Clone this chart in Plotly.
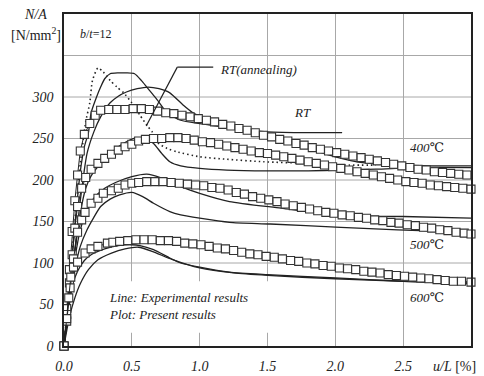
import plotly.graph_objects as go

# ---------------- data ----------------
# Simulation (plot, square markers)
SIM_RT_X = [0, 0.02, 0.04, 0.06, 0.08, 0.10, 0.12, 0.15, 0.19, 0.23, 0.27, 0.33, 0.39, 0.45, 0.51, 0.57,
            0.63, 0.69, 0.75, 0.81, 0.87, 0.93, 0.99, 1.05, 1.11, 1.17, 1.23, 1.29, 1.35, 1.41, 1.47,
            1.53, 1.59, 1.65, 1.71, 1.77, 1.83, 1.89, 1.95, 2.01, 2.07, 2.13, 2.19, 2.25, 2.31, 2.37,
            2.43, 2.49, 2.55, 2.61, 2.67, 2.73, 2.79, 2.85, 2.91, 2.97]
SIM_RT_Y = [0, 45, 92, 138, 175, 206, 235, 255, 268, 278, 284, 285, 285, 285, 286, 286,
            285, 283, 281, 280, 278, 276, 274, 272, 270, 267, 265, 262, 260, 257, 254,
            252, 249, 247, 244, 242, 239, 237, 235, 233, 231, 229, 227, 225, 223, 221,
            219, 217, 215, 213, 212, 210, 209, 208, 207, 206]

SIM_400_X = [0, 0.02, 0.04, 0.06, 0.08, 0.10, 0.13, 0.16, 0.20, 0.25, 0.30, 0.35, 0.40, 0.45, 0.50,
             0.55, 0.60, 0.66, 0.72, 0.78, 0.84, 0.90, 0.96, 1.02, 1.08, 1.14, 1.20, 1.26, 1.32,
             1.38, 1.44, 1.50, 1.56, 1.62, 1.68, 1.74, 1.80, 1.86, 1.92, 1.98, 2.04, 2.10, 2.16,
             2.22, 2.28, 2.34, 2.40, 2.46, 2.52, 2.58, 2.64, 2.70, 2.76, 2.82, 2.88, 2.94, 3.00]
SIM_400_Y = [0, 38, 76, 110, 142, 168, 190, 203, 213, 220, 226, 231, 236, 240, 243,
             247, 249, 250, 250, 251, 251, 250, 248, 246, 245, 243, 241, 239, 237,
             235, 233, 232, 230, 228, 226, 224, 222, 220, 218, 216, 214, 212, 210,
             208, 206, 204, 202, 200, 198, 197, 196, 194, 193, 192, 191, 190, 189]

SIM_500_X = [0, 0.02, 0.045, 0.07, 0.10, 0.13, 0.155, 0.20, 0.25, 0.29, 0.35, 0.40, 0.45, 0.50, 0.55,
             0.61, 0.67, 0.73, 0.79, 0.85, 0.91, 0.97, 1.03, 1.09, 1.15, 1.21, 1.27, 1.33, 1.39,
             1.45, 1.51, 1.57, 1.63, 1.69, 1.75, 1.81, 1.87, 1.93, 1.99, 2.05, 2.11, 2.17, 2.23,
             2.29, 2.35, 2.41, 2.47, 2.53, 2.59, 2.65, 2.71, 2.77, 2.83, 2.89, 2.95, 3.00]
SIM_500_Y = [0, 30, 70, 105, 137, 152, 161, 172, 178, 184, 187, 190, 194, 196, 197,
             198, 198, 198, 197, 196, 195, 194, 193, 191, 190, 188, 185, 183, 180,
             178, 176, 174, 171, 169, 167, 165, 163, 161, 160, 158, 157, 155, 154,
             152, 151, 149, 148, 146, 145, 143, 142, 140, 139, 137, 136, 135]

SIM_600_X = [0, 0.02, 0.035, 0.05, 0.07, 0.10, 0.155, 0.20, 0.25, 0.32, 0.36, 0.41, 0.47, 0.53, 0.59,
             0.65, 0.71, 0.77, 0.83, 0.89, 0.95, 1.01, 1.07, 1.13, 1.19, 1.25, 1.31, 1.37, 1.43,
             1.49, 1.55, 1.61, 1.67, 1.73, 1.79, 1.85, 1.91, 1.97, 2.03, 2.09, 2.15, 2.21, 2.27,
             2.33, 2.39, 2.45, 2.51, 2.57, 2.63, 2.69, 2.75, 2.81, 2.87, 2.93, 3.00]
SIM_600_Y = [0, 33, 58, 83, 95, 101, 112, 117, 120, 124, 125, 126, 127, 128, 128,
             128, 127, 127, 126, 124, 123, 122, 120, 118, 117, 115, 113, 111, 110,
             108, 107, 105, 103, 102, 100, 99, 97, 96, 94, 93, 92, 90, 89,
             88, 86, 85, 84, 83, 82, 81, 80, 79, 78, 78, 77]

# Experimental (lines)
EXP_RT_X = [0, 0.04, 0.08, 0.12, 0.15, 0.18, 0.20, 0.24, 0.27, 0.30, 0.34, 0.40, 0.46, 0.52, 0.57,
            0.61, 0.65, 0.69, 0.76, 0.86, 1.0, 1.13, 1.3, 1.5, 1.8, 2.05]
EXP_RT_Y = [0, 70, 145, 210, 240, 257, 281, 300, 312, 322, 328, 329, 329, 328, 320,
            312, 304, 296, 281, 272, 268, 265, 261, 258, 257, 257]

EXP_RT2_X = [0, 0.04, 0.08, 0.12, 0.17, 0.22, 0.27, 0.34, 0.40, 0.46, 0.54, 0.62, 0.70, 0.78, 0.88,
             0.95, 1.0, 1.2, 1.5, 1.8, 2.0, 2.2, 2.5, 2.8, 3.0]
EXP_RT2_Y = [0, 55, 115, 175, 232, 258, 276, 293, 301, 306, 310, 312, 310, 305, 290,
             281, 277, 266, 252, 238, 228, 221, 218, 217, 217]

EXP_RTA_X = [0, 0.04, 0.08, 0.12, 0.16, 0.19, 0.21, 0.25, 0.29, 0.34, 0.39, 0.44, 0.50, 0.56, 0.62,
             0.65, 0.69, 0.76, 0.83, 1.0, 1.2, 1.47, 1.8, 2.1, 2.3]
EXP_RTA_Y = [0, 75, 150, 220, 270, 293, 320, 335, 330, 320, 312, 305, 293, 278, 264,
             258, 245, 238, 234, 228, 225, 222, 220, 218, 218]

EXP_400_X = [0, 0.04, 0.08, 0.12, 0.16, 0.20, 0.26, 0.32, 0.40, 0.47, 0.54, 0.60, 0.66, 0.72, 0.78,
             0.86, 1.0, 1.2, 1.5, 1.8, 2.04, 2.3, 2.6, 3.0]
EXP_400_Y = [0, 60, 115, 160, 190, 205, 218, 228, 240, 247, 251, 250, 244, 232, 222,
             217, 214, 212, 211, 211, 212, 213, 215, 215]

EXP_500A_X = [0, 0.04, 0.08, 0.12, 0.16, 0.22, 0.30, 0.38, 0.50, 0.61, 0.71, 0.86, 1.0, 1.22, 1.6,
              2.04, 2.5, 3.0]
EXP_500A_Y = [0, 55, 105, 140, 160, 178, 190, 197, 204, 207, 203, 192, 184, 174, 166,
              157, 156, 154]

EXP_500B_X = [0, 0.04, 0.08, 0.12, 0.17, 0.22, 0.27, 0.34, 0.41, 0.50, 0.58, 0.66, 0.78, 0.86, 1.0,
              1.22, 1.52, 2.04, 2.46, 3.0]
EXP_500B_Y = [0, 50, 92, 120, 140, 155, 168, 177, 182, 185, 180, 172, 162, 158, 154,
              149, 147, 143, 140, 137]

EXP_600A_X = [0, 0.03, 0.06, 0.10, 0.15, 0.20, 0.30, 0.40, 0.50, 0.56, 0.66, 0.78, 0.86, 1.0, 1.22,
              1.5, 2.0, 2.5, 3.0]
EXP_600A_Y = [0, 45, 72, 90, 103, 110, 117, 121, 122, 121, 116, 106, 100, 95, 89,
              86, 82, 78, 75]

EXP_600B_X = [0, 0.04, 0.08, 0.12, 0.18, 0.25, 0.35, 0.45, 0.55, 0.65, 0.80, 1.0, 1.25, 1.5, 2.0,
              2.5, 3.0]
EXP_600B_Y = [0, 35, 58, 75, 92, 104, 112, 117, 119, 114, 104, 94, 88, 85, 81,
              78, 76]

X_TICKS = [0, 0.5, 1.0, 1.5, 2.0, 2.5]
X_TICKTEXT = ["0.0", "0.5", "1.0", "1.5", "2.0", "2.5"]
Y_TICKS = [0, 50, 100, 150, 200, 250, 300]
Y_GRID = [100, 150, 200, 250, 300, 350]

# ---------------- figure ----------------
INK = "#222222"
SERIF = "Liberation Serif, Times New Roman, DejaVu Serif, serif"
fig = go.Figure()

exp_series = [
    (EXP_RT_X, EXP_RT_Y, "solid"),
    (EXP_RT2_X, EXP_RT2_Y, "solid"),
    (EXP_RTA_X, EXP_RTA_Y, "1.5px,3px"),
    (EXP_400_X, EXP_400_Y, "solid"),
    (EXP_500A_X, EXP_500A_Y, "solid"),
    (EXP_500B_X, EXP_500B_Y, "solid"),
    (EXP_600A_X, EXP_600A_Y, "solid"),
    (EXP_600B_X, EXP_600B_Y, "solid"),
]
for xs, ys, dash in exp_series:
    fig.add_trace(go.Scatter(x=xs, y=ys, mode="lines",
                             line=dict(color=INK, width=1.3 if dash == "solid" else 1.6,
                                       dash=dash, shape="spline", smoothing=0.6),
                             hoverinfo="skip", showlegend=False))

for xs, ys in [(SIM_RT_X, SIM_RT_Y), (SIM_400_X, SIM_400_Y),
               (SIM_500_X, SIM_500_Y), (SIM_600_X, SIM_600_Y)]:
    fig.add_trace(go.Scatter(x=xs, y=ys, mode="lines+markers",
                             line=dict(color=INK, width=1),
                             marker=dict(symbol="square", size=8, color="white",
                                         line=dict(color="#333333", width=1.1)),
                             cliponaxis=False,
                             hoverinfo="skip", showlegend=False))

shapes = []
for gy in Y_GRID:
    shapes.append(dict(type="line", xref="paper", yref="y", x0=0, x1=1, y0=gy, y1=gy,
                       line=dict(color="#a8a8a8", width=1), layer="below"))
# white background of the note box
shapes.append(dict(type="rect", xref="x", yref="y", x0=0.0, x1=1.75, y0=16, y1=78,
                   fillcolor="white", line=dict(width=0), layer="between"))
# pointer of RT(annealing)
shapes.append(dict(type="line", xref="x", yref="y", x0=0.606, y0=265, x1=0.835, y1=336,
                   line=dict(color=INK, width=1.2), layer="above"))
shapes.append(dict(type="line", xref="x", yref="y", x0=0.835, y0=336, x1=1.10, y1=336,
                   line=dict(color=INK, width=1.2), layer="above"))

anno_font = dict(family=SERIF, size=13, color=INK)
annotations = [
    dict(x=1.135, y=333, xref="x", yref="y", text="<i>RT(annealing)</i>", showarrow=False,
         xanchor="left", yanchor="middle", font=anno_font),
    dict(x=1.76, y=281, xref="x", yref="y", text="<i>RT</i>", showarrow=False,
         xanchor="center", yanchor="middle", font=anno_font),
    dict(x=2.675, y=239, xref="x", yref="y", text="<i>400</i>℃", showarrow=False,
         xanchor="center", yanchor="middle", font=anno_font),
    dict(x=2.675, y=122, xref="x", yref="y", text="<i>500</i>℃", showarrow=False,
         xanchor="center", yanchor="middle", font=anno_font),
    dict(x=2.675, y=58, xref="x", yref="y", text="<i>600</i>℃", showarrow=False,
         xanchor="center", yanchor="middle", font=anno_font),
    dict(x=0.10, y=376, xref="x", yref="y", text="<i>b</i>/<i>t</i>=12", showarrow=False,
         xanchor="left", yanchor="middle", font=dict(family=SERIF, size=12, color=INK)),
    dict(x=0.315, y=48, xref="x", yref="y",
         text="<i>Line: Experimental results</i><br><i>Plot: Present results</i>",
         showarrow=False, xanchor="left", yanchor="middle", align="left", font=anno_font),
    dict(x=-0.071, y=0.997, xref="paper", yref="paper", text="<i>N/A</i>", showarrow=False,
         xanchor="center", yanchor="middle", font=dict(family=SERIF, size=14, color=INK)),
    dict(x=-0.069, y=0.94, xref="paper", yref="paper", text="[N/mm<sup>2</sup>]", showarrow=False,
         xanchor="center", yanchor="middle", font=dict(family=SERIF, size=14, color=INK)),
    dict(x=0.96, y=-0.063, xref="paper", yref="paper", text="<i>u/L</i> [%]", showarrow=False,
         xanchor="center", yanchor="middle", font=dict(family=SERIF, size=14, color=INK)),
]

fig.update_layout(
    width=484, height=376,
    margin=dict(l=64, r=13, t=14, b=30, autoexpand=False),
    paper_bgcolor="white", plot_bgcolor="white",
    font=dict(family=SERIF),
    shapes=shapes, annotations=annotations,
    showlegend=False,
)
fig.update_xaxes(range=[0, 3.0], tickvals=X_TICKS, ticktext=X_TICKTEXT, automargin=False,
                 showgrid=True, gridcolor="#a8a8a8", gridwidth=1, zeroline=False,
                 showline=True, linecolor=INK, linewidth=1.5, mirror=True, ticks="",
                 ticklabelstandoff=6,
                 tickfont=dict(family=SERIF, size=14, color=INK, style="italic"))
fig.update_yaxes(range=[0, 400], tickvals=Y_TICKS, showgrid=False, zeroline=False, automargin=False,
                 showline=True, linecolor=INK, linewidth=1.5, mirror=True, ticks="",
                 ticklabelstandoff=6,
                 tickfont=dict(family=SERIF, size=14, color=INK, style="italic"))

fig.write_html("out.html")
